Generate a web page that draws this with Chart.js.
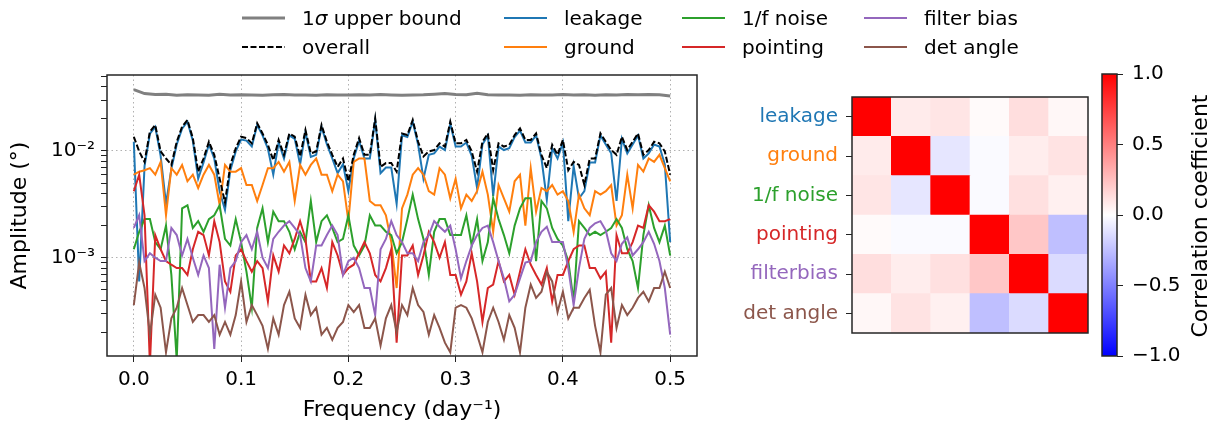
<!DOCTYPE html>
<html>
<head>
<meta charset="utf-8">
<script src="https://cdn.jsdelivr.net/npm/chart.js@4.4.0/dist/chart.umd.min.js"></script>
<style>
  body { margin: 0; background: #fff; font-family: "DejaVu Sans", sans-serif; }
  #wrap { position: relative; width: 1223px; height: 428px; overflow: hidden; }
  canvas { position: absolute; top: 0; }
  .legText { position: absolute; font-size: 20px; line-height: 24px; white-space: nowrap; color: #000; }
  .legLine { position: absolute; }
  #cbTitle { position: absolute; width: 300px; left: 1050px; top: 203px; font-size: 22px; line-height: 26px;
             text-align: center; transform: rotate(-90deg); color: #000; white-space: nowrap; }
</style>
</head>
<body>
<div id="wrap">
  <canvas id="ampChart" width="720" height="428" style="left:0"></canvas>
  <canvas id="corrChart" width="503" height="428" style="left:720px"></canvas>
  <canvas id="barChart" width="133" height="428" style="left:1090px"></canvas>
  <div id="cbTitle">Correlation coefficient</div>
</div>
<script>
Chart.defaults.font.family = "'DejaVu Sans', sans-serif";
Chart.defaults.color = "#000";

// frequency grid (day^-1)
const freq = Array.from({length: 101}, (_, i) => +(i * 0.005).toFixed(3));
const freqBound = Array.from({length: 51}, (_, i) => +(i * 0.01).toFixed(2));

// amplitudes (deg)
const upperBound = [0.0375,0.0345,0.0338,0.0340,0.0332,0.0336,0.0335,0.0333,0.0340,0.0335,
  0.0337,0.0335,0.0333,0.0336,0.0338,0.0334,0.0335,0.0333,0.0336,0.0335,
  0.0334,0.0336,0.0335,0.0338,0.0335,0.0333,0.0335,0.0336,0.0340,0.0345,
  0.0338,0.0336,0.0348,0.0337,0.0335,0.0334,0.0333,0.0336,0.0335,0.0334,
  0.0338,0.0335,0.0337,0.0333,0.0336,0.0335,0.0338,0.0336,0.0339,0.0337,0.0328];

const overall = [0.0136,0.0099,0.0079,0.0152,0.0175,0.0099,0.0085,0.0074,0.0122,0.0169,
  0.0195,0.0132,0.0064,0.0085,0.0122,0.0092,0.0055,0.0033,0.0074,0.0106,
  0.0136,0.0132,0.0118,0.0182,0.0146,0.0114,0.0082,0.0127,0.0092,0.0146,
  0.0136,0.0089,0.0157,0.0095,0.0099,0.0175,0.0122,0.0092,0.0071,0.0085,
  0.0052,0.0092,0.0132,0.0092,0.0092,0.0202,0.0071,0.0077,0.0077,0.0064,
  0.0146,0.0141,0.0195,0.0122,0.0089,0.0099,0.0102,0.0118,0.0110,0.0188,
  0.0118,0.0118,0.0127,0.0099,0.0064,0.0122,0.0146,0.0066,0.0118,0.0110,
  0.0114,0.0141,0.0163,0.0127,0.0127,0.0146,0.0092,0.0069,0.0114,0.0092,
  0.0127,0.0066,0.0079,0.0074,0.0048,0.0085,0.0085,0.0146,0.0122,0.0102,
  0.0092,0.0136,0.0102,0.0122,0.0146,0.0092,0.0102,0.0122,0.0118,0.0099,
  0.0060];

const leakage = [0.0122,0.0006,0.0072,0.0145,0.0168,0.0090,0.0032,0.0068,0.0115,0.0162,
  0.0188,0.0125,0.0055,0.0078,0.0115,0.0085,0.0042,0.0028,0.0066,0.0099,
  0.0128,0.0125,0.0110,0.0175,0.0140,0.0105,0.0060,0.0120,0.0085,0.0140,
  0.0130,0.0075,0.0150,0.0088,0.0092,0.0168,0.0115,0.0085,0.0062,0.0075,
  0.0042,0.0085,0.0125,0.0085,0.0085,0.0195,0.0062,0.0070,0.0070,0.0032,
  0.0140,0.0135,0.0188,0.0115,0.0055,0.0092,0.0095,0.0110,0.0102,0.0180,
  0.0110,0.0110,0.0120,0.0090,0.0045,0.0115,0.0140,0.0038,0.0110,0.0102,
  0.0106,0.0135,0.0155,0.0120,0.0120,0.0140,0.0085,0.0035,0.0106,0.0085,
  0.0120,0.0022,0.0072,0.0036,0.0042,0.0078,0.0078,0.0140,0.0115,0.0095,
  0.0034,0.0130,0.0095,0.0115,0.0140,0.0085,0.0095,0.0115,0.0110,0.0075,
  0.0014];

const ground = [0.0060,0.0064,0.0066,0.0069,0.0060,0.0079,0.0025,0.0069,0.0060,0.0074,
  0.0052,0.0060,0.0045,0.0060,0.0074,0.0060,0.0031,0.0074,0.0064,0.0064,
  0.0069,0.0048,0.0048,0.0034,0.0048,0.0069,0.0069,0.0079,0.0064,0.0079,
  0.0034,0.0074,0.0060,0.0074,0.0085,0.0060,0.0060,0.0042,0.0060,0.0052,
  0.0022,0.0079,0.0085,0.0085,0.0034,0.0031,0.0031,0.0025,0.0014,0.00052,
  0.0029,0.0039,0.0060,0.0069,0.0060,0.0042,0.0039,0.0069,0.0060,0.0036,
  0.0055,0.0029,0.0039,0.0034,0.0042,0.0064,0.0039,0.00175,0.0048,0.0036,
  0.0027,0.0052,0.0060,0.0020,0.0069,0.0027,0.0045,0.0042,0.0048,0.0039,
  0.0042,0.0034,0.00175,0.0039,0.0029,0.0025,0.0042,0.0039,0.0042,0.0048,
  0.0020,0.0025,0.0060,0.0029,0.0074,0.0064,0.0085,0.0079,0.0092,0.0069,
  0.0052];

const noise = [0.0012,0.00175,0.0023,0.0023,0.0014,0.0012,0.0020,0.00069,0.00011,0.0029,
  0.0031,0.0019,0.0022,0.00175,0.0023,0.0025,0.0031,0.0015,0.0013,0.0023,
  0.0014,0.00074,0.00034,0.0019,0.0029,0.0014,0.0027,0.0022,0.0022,0.00175,
  0.0012,0.00175,0.0014,0.0034,0.0014,0.0022,0.0025,0.0019,0.0014,0.0015,
  0.0025,0.0013,0.00105,0.0013,0.0025,0.0020,0.0020,0.00175,0.00163,0.0011,
  0.0014,0.0023,0.0039,0.0023,0.0015,0.00069,0.00175,0.0023,0.0023,0.00163,
  0.00163,0.00163,0.0025,0.0013,0.0023,0.00093,0.0014,0.0036,0.0023,0.00163,
  0.0011,0.0020,0.0029,0.0036,0.0036,0.00093,0.0034,0.0029,0.0019,0.0015,
  0.0013,0.00093,0.00039,0.0022,0.0019,0.00163,0.00175,0.00163,0.00175,0.0019,
  0.0023,0.0019,0.0012,0.00093,0.00052,0.00163,0.0031,0.0019,0.0014,0.0020,
  0.00105];

const pointing = [0.0042,0.0060,0.0025,0.0001,0.00163,0.0012,0.00093,0.00086,0.0008,0.0008,
  0.00069,0.0012,0.00175,0.00163,0.00105,0.0022,0.0014,0.0006,0.00048,0.00105,
  0.0012,0.00093,0.00074,0.00093,0.0008,0.00039,0.00105,0.00074,0.0013,0.0011,
  0.0015,0.0022,0.0015,0.0006,0.0006,0.0008,0.00052,0.0014,0.00105,0.00069,
  0.0008,0.00086,0.0011,0.0014,0.0011,0.00069,0.0006,0.0008,0.0012,0.00016,
  0.00105,0.00105,0.0013,0.00069,0.00105,0.00175,0.0014,0.0010,0.0014,0.00069,
  0.00069,0.00045,0.0006,0.0011,0.0006,0.00025,0.00052,0.00056,0.00093,0.0006,
  0.00069,0.00045,0.00074,0.0012,0.00086,0.00069,0.00056,0.0008,0.00039,0.00069,
  0.00069,0.00093,0.0012,0.0013,0.0013,0.0008,0.0008,0.00064,0.00074,0.00016,
  0.00163,0.0011,0.0011,0.0014,0.0020,0.0019,0.0031,0.0027,0.0022,0.0022,
  0.0023];

const filterBias = [0.0019,0.0025,0.00093,0.0011,0.0010,0.00093,0.00093,0.0019,0.00163,0.00105,
  0.0015,0.0010,0.00069,0.00105,0.0008,0.00014,0.00086,0.00034,0.0008,0.00093,
  0.0014,0.00163,0.0012,0.00175,0.0010,0.0008,0.0015,0.00175,0.0020,0.0022,
  0.0019,0.00163,0.0008,0.0006,0.0013,0.0013,0.00163,0.0020,0.00163,0.00069,
  0.00093,0.0010,0.0008,0.00052,0.00052,0.00029,0.0012,0.0015,0.0022,0.00163,
  0.0014,0.0011,0.0011,0.00093,0.0014,0.00163,0.0022,0.00195,0.00175,0.0020,
  0.0012,0.00064,0.00093,0.0013,0.00163,0.0019,0.0020,0.0014,0.00093,0.00064,
  0.00039,0.00045,0.00064,0.0009,0.00093,0.0014,0.00175,0.00195,0.0014,0.0014,
  0.0014,0.0008,0.00036,0.0008,0.0015,0.0019,0.0021,0.0022,0.0018,0.0011,
  0.00093,0.00135,0.00155,0.00105,0.0012,0.0014,0.00175,0.00135,0.00093,0.00052,
  0.00019];

const detAngle = [0.00036,0.0009,0.00052,0.00019,0.00045,0.00034,0.00013,0.00027,0.00034,0.00052,
  0.00036,0.00025,0.00029,0.00029,0.00025,0.00029,0.00019,0.00025,0.00019,0.00029,
  0.00060,0.00025,0.00036,0.00029,0.00023,0.00014,0.00027,0.00019,0.00036,0.00048,
  0.00027,0.00022,0.00045,0.00029,0.00034,0.00019,0.00022,0.00017,0.00022,0.00025,
  0.00036,0.00031,0.00036,0.00022,0.00022,0.00027,0.00015,0.00027,0.00036,0.00020,
  0.00036,0.00029,0.00052,0.00036,0.00031,0.00019,0.00029,0.00022,0.00016,0.00013,
  0.00034,0.00036,0.00034,0.00027,0.00019,0.00013,0.00025,0.00034,0.00025,0.00017,
  0.00029,0.00022,0.00013,0.00034,0.00056,0.00042,0.00048,0.00074,0.00060,0.00031,
  0.00048,0.00027,0.00034,0.00034,0.00042,0.00050,0.00023,0.00013,0.00045,0.00052,
  0.00022,0.00036,0.00029,0.00034,0.00042,0.00048,0.00039,0.00052,0.00052,0.00074,
  0.00052];

const xTicks = [0, 0.1, 0.2, 0.3, 0.4, 0.5];
const yTicks = [2e-4,3e-4,4e-4,5e-4,6e-4,7e-4,8e-4,9e-4,
  1e-3,2e-3,3e-3,4e-3,5e-3,6e-3,7e-3,8e-3,9e-3,1e-2,2e-2,3e-2,4e-2,5e-2];

// correlation matrix
const corrNames = ["leakage", "ground", "1/f noise", "pointing", "filterbias", "det angle"];
const corrColors = ["#1f77b4", "#ff7f0e", "#2ca02c", "#d62728", "#9467bd", "#8c564b"];
const corr = [
  [1.00, 0.08, 0.10, 0.02, 0.13, 0.03],
  [0.08, 1.00, -0.10, -0.02, 0.07, 0.11],
  [0.10, -0.10, 1.00, -0.02, 0.12, 0.06],
  [0.02, -0.02, -0.02, 1.00, 0.22, -0.25],
  [0.13, 0.07, 0.12, 0.22, 1.00, -0.14],
  [0.03, 0.11, 0.06, -0.25, -0.14, 1.00]
];
const cbTicks = [-1, -0.5, 0, 0.5, 1];

// matplotlib "bwr" colormap
function bwr(v) {
  const t = (v + 1) / 2;
  if (t < 0.5) { const c = Math.round(510 * t); return `rgb(${c},${c},255)`; }
  const c = Math.round(510 * (1 - t));
  return `rgb(255,${c},${c})`;
}

const framePlugin = {
  id: "frame",
  afterDatasetsDraw(chart) {
    const {ctx, chartArea: a} = chart;
    ctx.save();
    ctx.strokeStyle = "#262626";
    ctx.lineWidth = 1.5;
    ctx.strokeRect(a.left, a.top, a.right - a.left, a.bottom - a.top);
    ctx.restore();
  }
};

const pts = (xs, ys) => ys.map((y, i) => ({x: xs[i], y: y}));
const f20 = {size: 20};
const f22 = {size: 22};
const isDecade = v => Math.abs(Math.log10(v) - Math.round(Math.log10(v))) < 1e-9;

// first datasets are drawn on top
new Chart(document.getElementById("ampChart"), {
  type: "line",
  data: {
    datasets: [
      {label: "overall", data: pts(freq, overall), borderColor: "#000", borderWidth: 2, borderDash: [6, 2.5]},
      {label: "det angle", data: pts(freq, detAngle), borderColor: "#8c564b", borderWidth: 2},
      {label: "filter bias", data: pts(freq, filterBias), borderColor: "#9467bd", borderWidth: 2},
      {label: "pointing", data: pts(freq, pointing), borderColor: "#d62728", borderWidth: 2},
      {label: "1/f noise", data: pts(freq, noise), borderColor: "#2ca02c", borderWidth: 2},
      {label: "ground", data: pts(freq, ground), borderColor: "#ff7f0e", borderWidth: 2},
      {label: "leakage", data: pts(freq, leakage), borderColor: "#1f77b4", borderWidth: 2},
      {label: "1σ upper bound", data: pts(freqBound, upperBound), borderColor: "#808080", borderWidth: 3}
    ]
  },
  options: {
    responsive: false,
    animation: false,
    layout: {padding: {top: 75, right: 23, left: 0, bottom: 0}},
    elements: {point: {radius: 0}, line: {tension: 0}},
    plugins: {legend: {display: false}, tooltip: {enabled: false}},
    scales: {
      x: {
        type: "linear", min: -0.025, max: 0.525,
        afterBuildTicks: s => { s.ticks = xTicks.map(v => ({value: v})); },
        afterFit: s => { s.height = 72; },
        ticks: {callback: v => v.toFixed(1), font: f20, padding: 6, maxRotation: 0, autoSkip: false},
        grid: {color: "#b0b0b0", tickColor: "#222", tickLength: 6},
        border: {display: false, dash: [1.5, 3]},
        title: {display: true, text: "Frequency (day⁻¹)", font: f22, padding: {top: 0, bottom: 5}}
      },
      y: {
        type: "logarithmic", min: 1.2e-4, max: 0.0515,
        afterBuildTicks: s => { s.ticks = yTicks.map(v => ({value: v})); },
        afterFit: s => { s.width = 107; },
        ticks: {
          callback: v => Math.abs(v - 0.01) < 1e-9 ? "10⁻²" : (Math.abs(v - 0.001) < 1e-9 ? "10⁻³" : ""),
          font: f20, padding: 6, autoSkip: false
        },
        grid: {
          color: c => (c.tick && isDecade(c.tick.value)) ? "#b0b0b0" : "rgba(0,0,0,0)",
          tickColor: "#222", tickLength: 6
        },
        border: {display: false, dash: [1.5, 3]},
        title: {display: true, text: "Amplitude (°)", font: f22, padding: {top: 7, bottom: 0}}
      }
    }
  },
  plugins: [framePlugin]
});

// heatmap: one stacked bar per column, one dataset per row (bottom row first)
const cellSets = corrNames.map((name, r) => ({
  label: name,
  data: corrNames.map(() => 1),
  backgroundColor: corr[r].map(bwr),
  borderWidth: 0,
  barPercentage: 1,
  categoryPercentage: 1
})).reverse();

new Chart(document.getElementById("corrChart"), {
  type: "bar",
  data: {labels: corrNames, datasets: cellSets},
  options: {
    responsive: false,
    animation: false,
    layout: {padding: {top: 97, right: 135, left: 0, bottom: 95}},
    plugins: {legend: {display: false}, tooltip: {enabled: false}},
    scales: {
      x: {type: "category", stacked: true, display: false},
      y: {
        type: "linear", stacked: true, min: 0, max: 6,
        afterBuildTicks: s => { s.ticks = [0.5, 1.5, 2.5, 3.5, 4.5, 5.5].map(v => ({value: v})); },
        afterFit: s => { s.width = 132; },
        ticks: {
          callback: v => corrNames[5 - Math.floor(v)],
          color: c => corrColors[5 - Math.floor(c.tick.value)],
          font: f20, padding: 8, autoSkip: false
        },
        grid: {drawOnChartArea: false, tickColor: "#222", tickLength: 6},
        border: {display: false}
      }
    }
  },
  plugins: [framePlugin]
});

// colour bar
new Chart(document.getElementById("barChart"), {
  type: "bar",
  data: {
    labels: [""],
    datasets: [{
      data: [[-1, 1]],
      backgroundColor: c => {
        const a = c.chart.chartArea;
        if (!a) return "#fff";
        const g = c.chart.ctx.createLinearGradient(0, a.bottom, 0, a.top);
        g.addColorStop(0, bwr(-1));
        g.addColorStop(0.5, bwr(0));
        g.addColorStop(1, bwr(1));
        return g;
      },
      borderWidth: 0, barPercentage: 1, categoryPercentage: 1
    }]
  },
  options: {
    responsive: false,
    animation: false,
    layout: {padding: {top: 74, right: 0, left: 12, bottom: 72}},
    plugins: {legend: {display: false}, tooltip: {enabled: false}},
    scales: {
      x: {display: false},
      y: {
        position: "right", min: -1, max: 1,
        afterBuildTicks: s => { s.ticks = cbTicks.map(v => ({value: v})); },
        afterFit: s => { s.width = 106; },
        ticks: {callback: v => (v < 0 ? "−" : "") + Math.abs(v).toFixed(1), font: f20, padding: 9, autoSkip: false},
        grid: {drawOnChartArea: false, tickColor: "#222", tickLength: 6},
        border: {display: false}
      }
    }
  },
  plugins: [framePlugin]
});

// legend (matplotlib style, 4 columns x 2 rows)
const legendItems = [
  {text: "1<i>σ</i> upper bound", color: "#808080", width: 3, dash: "", col: 0, row: 0},
  {text: "overall", color: "#000", width: 2, dash: "6,2.5", col: 0, row: 1},
  {text: "leakage", color: "#1f77b4", width: 2, dash: "", col: 1, row: 0},
  {text: "ground", color: "#ff7f0e", width: 2, dash: "", col: 1, row: 1},
  {text: "1/f noise", color: "#2ca02c", width: 2, dash: "", col: 2, row: 0},
  {text: "pointing", color: "#d62728", width: 2, dash: "", col: 2, row: 1},
  {text: "filter bias", color: "#9467bd", width: 2, dash: "", col: 3, row: 0},
  {text: "det angle", color: "#8c564b", width: 2, dash: "", col: 3, row: 1}
];
const legendCols = [242, 504, 682, 864];
const legendRows = [18, 47];
const wrap = document.getElementById("wrap");
legendItems.forEach(it => {
  const x = legendCols[it.col], y = legendRows[it.row];
  const line = document.createElementNS("http://www.w3.org/2000/svg", "svg");
  line.setAttribute("class", "legLine");
  line.setAttribute("width", "44");
  line.setAttribute("height", "8");
  line.style.left = x + "px";
  line.style.top = (y - 4) + "px";
  line.innerHTML = `<line x1="0" y1="4" x2="43" y2="4" stroke="${it.color}" stroke-width="${it.width}"` +
    (it.dash ? ` stroke-dasharray="${it.dash}"` : "") + "/>";
  wrap.appendChild(line);
  const label = document.createElement("div");
  label.className = "legText";
  label.style.left = (x + 60) + "px";
  label.style.top = (y - 12) + "px";
  label.innerHTML = it.text;
  wrap.appendChild(label);
});
</script>
</body>
</html>
